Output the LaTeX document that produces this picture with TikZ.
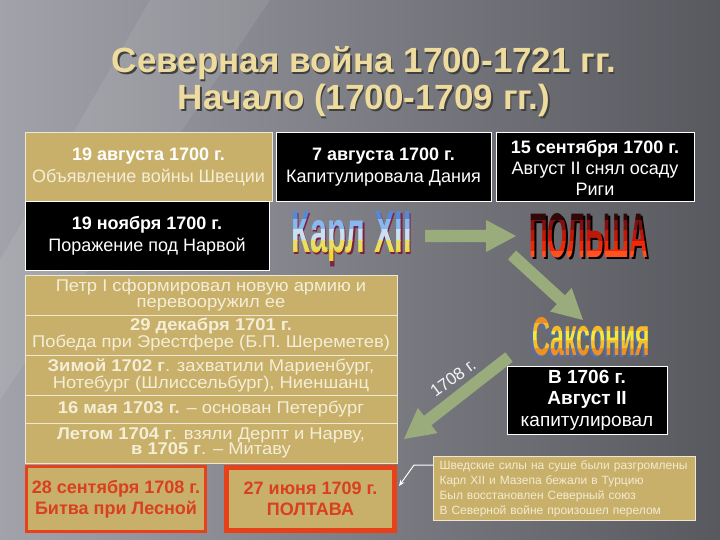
\documentclass[tikz,border=0pt]{standalone}
\usepackage{fontspec}
\setmainfont{Liberation Sans}
\newfontfamily\rowfont{Liberation Sans}[FakeStretch=1.08]
\usepackage{graphicx}
\usetikzlibrary{calc,arrows.meta}
\definecolor{gold}{HTML}{C8B06A}
\definecolor{cream}{HTML}{F4EED6}
\definecolor{redb}{HTML}{E84018}
\definecolor{redt}{HTML}{D84020}
\definecolor{agreen}{HTML}{9AAB7C}
\definecolor{titlec}{HTML}{EEDC9E}
\definecolor{bgL}{HTML}{A2A2AA}
\definecolor{bgM}{HTML}{74747C}
\definecolor{bgR}{HTML}{58585F}
\definecolor{k1}{HTML}{5888D8}
\definecolor{k2}{HTML}{88B8F0}
\definecolor{k3}{HTML}{C8E0F0}
\definecolor{k4}{HTML}{E8E060}
\definecolor{k5}{HTML}{F0D830}
\definecolor{ko}{HTML}{802040}
\definecolor{p1}{HTML}{300808}
\definecolor{p2}{HTML}{801010}
\definecolor{p3}{HTML}{C01808}
\definecolor{p4}{HTML}{F02808}
\definecolor{p5}{HTML}{FF5020}
\definecolor{s1}{HTML}{F08C20}
\definecolor{s2}{HTML}{F8B828}
\definecolor{s3}{HTML}{F8E838}
\definecolor{s4}{HTML}{F8C028}
\definecolor{s5}{HTML}{F09020}
\definecolor{so}{HTML}{5070B0}
\newcommand{\barrow}[2]{%
  \coordinate (bh) at ($(#2)!30pt!(#1)$);
  \fill[agreen] ($(#1)!6pt!90:(#2)$) -- ($(bh)!6pt!90:(#2)$) -- ($(bh)!16pt!90:(#2)$) -- (#2)
    -- ($(bh)!16pt!-90:(#2)$) -- ($(bh)!6pt!-90:(#2)$) -- ($(#1)!6pt!-90:(#2)$) -- cycle;}
\newcommand{\karltext}{\resizebox{121pt}{41pt}{\bfseries Карл XII}}
\newcommand{\polshatext}{\resizebox{119pt}{44pt}{\bfseries ПОЛЬША}}
\newcommand{\saxtext}{\resizebox{118pt}{38pt}{\bfseries Саксония}}
\begin{document}
\begin{tikzpicture}[x=1pt,y=-1pt,
  blk/.style={draw=white, line width=1pt, fill=black, text=white, align=center, inner sep=0pt, font=\fontsize{18}{22}\selectfont},
  gbx/.style={draw=white!70!gold, line width=1pt, fill=gold, text=cream, align=center, inner sep=0pt, font=\fontsize{18}{22}\selectfont},
  rowbx/.style={gbx, minimum width=372, font=\rowfont\fontsize{17}{15.5}\selectfont},
  rbx/.style={draw=redb, fill=gold, text=redt, align=center, inner sep=0pt, font=\fontsize{18}{21}\selectfont\bfseries},
  wa/.style={anchor=base west, inner sep=0pt},
]
\useasboundingbox (0,0) rectangle (720,540);
% background
\shade[left color=bgL, middle color=bgM, right color=bgR] (0,0) rectangle (720,540);
\fill[white, opacity=0.08] (150,0) -- (270,0) -- (0,400) -- (0,260) -- cycle;
% title
\node[font=\fontsize{35}{37}\selectfont\bfseries, text=black!75, align=center] (titleshadow) at (365.5,83.5) {Северная война 1700-1721 гг.\\Начало (1700-1709 гг.)};
\node[font=\fontsize{35}{37}\selectfont\bfseries, text=titlec, align=center] (title) at (364,82) {Северная война 1700-1721 гг.\\Начало (1700-1709 гг.)};
% top boxes
\node[gbx, minimum width=247, minimum height=69] (b1) at (148.5,167.5) {\textcolor{white}{\bfseries 19 августа 1700 г.}\\Объявление войны Швеции};
\node[blk, minimum width=215, minimum height=69] (b2) at (383.5,167.5) {{\bfseries 7 августа 1700 г.}\\Капитулировала Дания};
\node[blk, minimum width=198, minimum height=69, font=\fontsize{18}{21}\selectfont] (b3) at (595,167.5) {{\bfseries 15 сентября 1700 г.}\\Август II снял осаду\\Риги};
\node[blk, minimum width=244, minimum height=68] (b4) at (147,236) {{\bfseries 19 ноября 1700 г.}\\Поражение под Нарвой};
% big box rows
\node[rowbx, minimum height=40] (r1) at (211,295) {Петр I сформировал новую армию и\\перевооружил ее};
\node[rowbx, minimum height=40] (r2) at (211,335) {{\bfseries 29 декабря 1701 г.}\\Победа при Эрестфере (Б.П. Шереметев)};
\node[rowbx, minimum height=40] (r3) at (211,375) {{\bfseries Зимой 1702 г}. захватили Мариенбург,\\Нотебург (Шлиссельбург), Ниеншанц};
\node[rowbx, minimum height=28] (r4) at (211,409) {{\bfseries 16 мая 1703 г.} – основан Петербург};
\node[rowbx, minimum height=40] (r5) at (211,443) {{\bfseries Летом 1704 г}. взяли Дерпт и Нарву,\\{\bfseries в 1705 г}. – Митаву};
% bottom red boxes
\node[rbx, line width=3pt, minimum width=179, minimum height=65] (lesn) at (116,499) {28 сентября 1708 г.\\Битва при Лесной};
\node[rbx, line width=5pt, minimum width=168, minimum height=63] (polt) at (310.5,499) {27 июня 1709 г.\\ПОЛТАВА};
% right side boxes
\node[blk, minimum width=160, minimum height=68, font=\fontsize{19}{21.5}\selectfont] (b1706) at (587,400) {{\bfseries В 1706 г.}\\{\bfseries Август II}\\капитулировал};
\node[gbx, anchor=north west, align=left, text width=250pt, inner xsep=6pt, minimum height=64, text=cream!95!gold, font=\fontsize{12}{15}\selectfont] (res) at (433,456) {Шведские силы на суше были разгромлены\\Карл XII и Мазепа бежали в Турцию\\Был восстановлен Северный союз\\В Северной войне произошел перелом};
% block arrows
\coordinate (aAs) at (425,236); \coordinate (aAe) at (516,236);
\coordinate (aBs) at (512,255); \coordinate (aBe) at (583,320);
\coordinate (aCs) at (509,357); \coordinate (aCe) at (404,439);
\barrow{aAs}{aAe}
\barrow{aBs}{aBe}
\barrow{aCs}{aCe}
\node[rotate=36, text=white!92!gray, font=\fontsize{17}{17}\selectfont] (l1708) at (453,378) {1708 г.};
% small white connector
\coordinate (w0) at ($(res.north west)+(0,9)$);
\coordinate (w1) at (414,465);
\coordinate (w2) at (399,486);
\draw[white, line width=1pt, -{Stealth[length=6pt,width=5pt]}] (w0) -- (w1) -- (w2);
% WordArt: Карл XII
\node[wa, text=ko] (karlo) at (292.2,254.2) {\karltext};
\foreach \c [count=\i] in {k1,k2,k3,k4,k5} {
  \begin{scope}
  \clip (280,{210+(\i-1)*10}) rectangle (425,{210+\i*10});
  \node[wa, text=\c] (karl\i) at (291,253) {\karltext};
  \end{scope}
}
% WordArt: ПОЛЬША
\node[wa, text=black] (polo) at (531,259) {\polshatext};
\foreach \c [count=\i] in {p1,p2,p3,p4,p5} {
  \begin{scope}
  \clip (520,{211+(\i-1)*10}) rectangle (660,{211+\i*10});
  \node[wa, text=\c] (pol\i) at (529,257) {\polshatext};
  \end{scope}
}
% WordArt: Саксония
\node[wa, text=so] (saxo) at (530,357) {\saxtext};
\foreach \c [count=\i] in {s1,s2,s3,s4,s5} {
  \begin{scope}
  \clip (525,{315+(\i-1)*8.4}) rectangle (660,{315+\i*8.4});
  \node[wa, text=\c] (sax\i) at (532,355) {\saxtext};
  \end{scope}
}
\end{tikzpicture}
\end{document}
